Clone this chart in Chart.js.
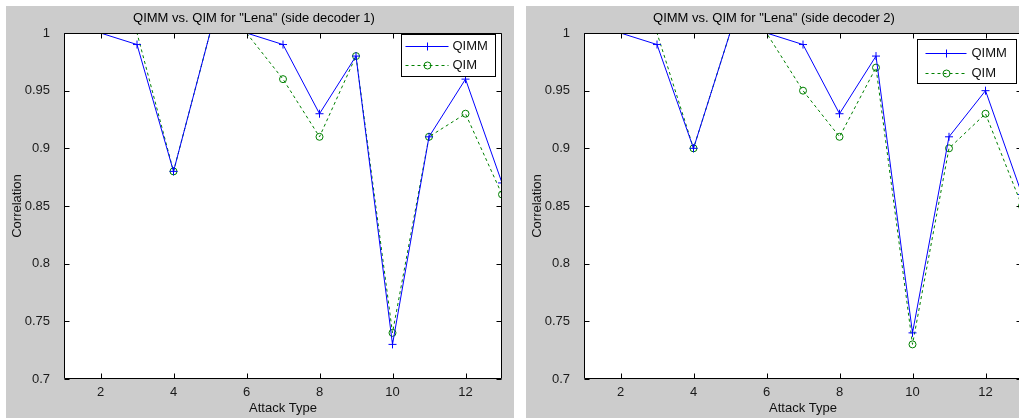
<!DOCTYPE html>
<html lang="en">
<head>
<meta charset="UTF-8">
<title>QIMM vs. QIM for "Lena"</title>
<script src="https://cdn.jsdelivr.net/npm/chart.js"></script>
<style>
  html, body { margin: 0; padding: 0; background: #fff; width: 1019px; height: 418px; overflow: hidden; }
  .fig { position: absolute; top: 6px; width: 508px; height: 412px; background: #cccccc; }
  #fig1 { left: 6px; }
  #fig2 { left: 526px; }
</style>
</head>
<body>
<div class="fig" id="fig1"><canvas id="c1" width="508" height="412"></canvas></div>
<div class="fig" id="fig2"><canvas id="c2" width="508" height="412"></canvas></div>

<script>
// data
const attackTypes = [1, 2, 3, 4, 5, 6, 7, 8, 9, 10, 11, 12, 13];
const qimmSide1 = [1, 1, 0.99, 0.88, 1, 1, 0.99, 0.93, 0.98, 0.73, 0.91, 0.96, 0.87];
const qimSide1  = [1, 1, 1, 0.88, 1, 1, 0.96, 0.91, 0.98, 0.74, 0.91, 0.93, 0.86];
const qimmSide2 = [1, 1, 0.99, 0.90, 1, 1, 0.99, 0.93, 0.98, 0.74, 0.91, 0.95, 0.86];
const qimSide2  = [1, 1, 1, 0.90, 1, 1, 0.95, 0.91, 0.97, 0.73, 0.90, 0.93, 0.85];
const xTicks = [2, 4, 6, 8, 10, 12];
const yTicks = [0.7, 0.75, 0.8, 0.85, 0.9, 0.95, 1];
const seriesNames = ['QIMM', 'QIM'];

const FONT = 'Arial, "Liberation Sans", Helvetica, sans-serif';
const Y_MAX = 1;

// white axes box with inward ticks on all four sides, like matlab
const matlabAxes = {
    id: 'matlabAxes',
    beforeDraw(chart) {
        const a = chart.chartArea;
        const ctx = chart.ctx;
        ctx.save();
        ctx.fillStyle = '#fff';
        ctx.fillRect(a.left, a.top, a.right - a.left, a.bottom - a.top);
        ctx.restore();
    },
    afterDatasetsDraw(chart) {
        const {ctx, chartArea: a, scales} = chart;
        const L = Math.round(a.left) + 0.5, R = Math.round(a.right) - 0.5;
        const T = Math.round(a.top) + 0.5, B = Math.round(a.bottom) - 0.5;
        const len = 5;
        ctx.save();
        ctx.strokeStyle = '#000';
        ctx.lineWidth = 1;
        ctx.beginPath();
        ctx.rect(L, T, R - L, B - T);
        xTicks.forEach(v => {
            const px = Math.round(scales.x.getPixelForValue(v)) + 0.5;
            ctx.moveTo(px, B); ctx.lineTo(px, B - len);
            ctx.moveTo(px, T); ctx.lineTo(px, T + len);
        });
        yTicks.forEach(v => {
            const py = Math.round(scales.y.getPixelForValue(v)) + 0.5;
            ctx.moveTo(L, py); ctx.lineTo(L + len, py);
            ctx.moveTo(R, py); ctx.lineTo(R - len, py);
        });
        ctx.stroke();
        ctx.restore();
    }
};

// boxed legend with line + marker samples
const matlabLegend = {
    id: 'matlabLegend',
    afterDraw(chart, args, opts) {
        const {ctx, chartArea: a} = chart;
        const bx = Math.round(a.right - opts.right) + 0.5;
        const by = Math.round(a.top + opts.top) + 0.5;
        ctx.save();
        ctx.fillStyle = '#fff';
        ctx.fillRect(bx, by, opts.w, opts.h);
        ctx.strokeStyle = '#000';
        ctx.lineWidth = 1;
        ctx.strokeRect(bx, by, opts.w, opts.h);
        chart.data.datasets.forEach((ds, i) => {
            const y = Math.round(by + opts.rows[i]) + 0.5;
            const x0 = bx + opts.lineX[0], x1 = bx + opts.lineX[1];
            const xm = Math.round((x0 + x1) / 2) + 0.5;
            ctx.strokeStyle = ds.borderColor;
            ctx.setLineDash(ds.borderDash || []);
            ctx.beginPath();
            ctx.moveTo(x0, y); ctx.lineTo(x1, y);
            ctx.stroke();
            ctx.setLineDash([]);
            ctx.beginPath();
            if (ds.pointStyle === 'cross') {
                ctx.moveTo(xm - 4, y); ctx.lineTo(xm + 4, y);
                ctx.moveTo(xm, y - 4); ctx.lineTo(xm, y + 4);
            } else {
                ctx.arc(xm, y, 3.5, 0, Math.PI * 2);
            }
            ctx.stroke();
            ctx.fillStyle = '#111';
            ctx.font = '13px ' + FONT;
            ctx.textBaseline = 'middle';
            ctx.textAlign = 'left';
            ctx.fillText(ds.label, bx + opts.textX, y);
        });
        ctx.restore();
    }
};

function hideAtTop(r) {
    return ctx => (ctx.raw && ctx.raw.y >= Y_MAX) ? 0 : r;
}

function makeChart(id, title, qimm, qim, legendPos) {
    new Chart(document.getElementById(id), {
        type: 'line',
        data: {
            datasets: [{
                label: seriesNames[0],
                data: attackTypes.map((x, i) => ({x: x, y: qimm[i]})),
                borderColor: '#0000ff',
                borderWidth: 1,
                pointStyle: 'cross',
                pointRadius: hideAtTop(4),
                pointBorderColor: '#0000ff',
                pointBorderWidth: 1,
                tension: 0,
                clip: 0
            }, {
                label: seriesNames[1],
                data: attackTypes.map((x, i) => ({x: x, y: qim[i]})),
                borderColor: '#008000',
                borderWidth: 1,
                borderDash: [3, 3],
                pointStyle: 'circle',
                pointRadius: hideAtTop(3.5),
                pointBorderColor: '#008000',
                pointBackgroundColor: 'rgba(0,0,0,0)',
                pointBorderWidth: 1,
                tension: 0,
                clip: 0
            }]
        },
        options: {
            responsive: false,
            animation: false,
            events: [],
            layout: { padding: { left: 0, right: 12, top: 0, bottom: 0 } },
            scales: {
                x: {
                    type: 'linear',
                    min: 1,
                    max: 13,
                    grid: { display: false },
                    border: { display: false },
                    afterBuildTicks: s => { s.ticks = xTicks.map(v => ({value: v})); },
                    afterFit: s => { s.height = 39; },
                    ticks: { padding: -2, color: '#1a1a1a', font: { family: FONT, size: 13 }, maxRotation: 0 },
                    title: { display: true, text: 'Attack Type', color: '#111', padding: 2, font: { family: FONT, size: 13 } }
                },
                y: {
                    min: 0.7,
                    max: 1,
                    grid: { display: false },
                    border: { display: false },
                    afterBuildTicks: s => { s.ticks = yTicks.map(v => ({value: v})); },
                    afterFit: s => { s.width = 58; },
                    ticks: { padding: 6, color: '#1a1a1a', font: { family: FONT, size: 13 }, callback: v => String(v) },
                    title: { display: true, text: 'Correlation', color: '#111', padding: 4, font: { family: FONT, size: 13 } }
                }
            },
            plugins: {
                legend: { display: false },
                tooltip: { enabled: false },
                title: {
                    display: true,
                    text: title,
                    color: '#000',
                    padding: { top: 5, bottom: 6.4 },
                    font: { family: FONT, size: 13, weight: 'normal' }
                },
                matlabLegend: legendPos
            }
        },
        plugins: [matlabAxes, matlabLegend]
    });
}

makeChart('c1', 'QIMM vs. QIM for "Lena" (side decoder 1)', qimmSide1, qimSide1,
    { right: 101, top: 1, w: 94, h: 42, rows: [11, 30], lineX: [4, 47], textX: 51 });
makeChart('c2', 'QIMM vs. QIM for "Lena" (side decoder 2)', qimmSide2, qimSide2,
    { right: 105, top: 6, w: 99, h: 44, rows: [13, 33], lineX: [8, 49], textX: 54 });
</script>
</body>
</html>
